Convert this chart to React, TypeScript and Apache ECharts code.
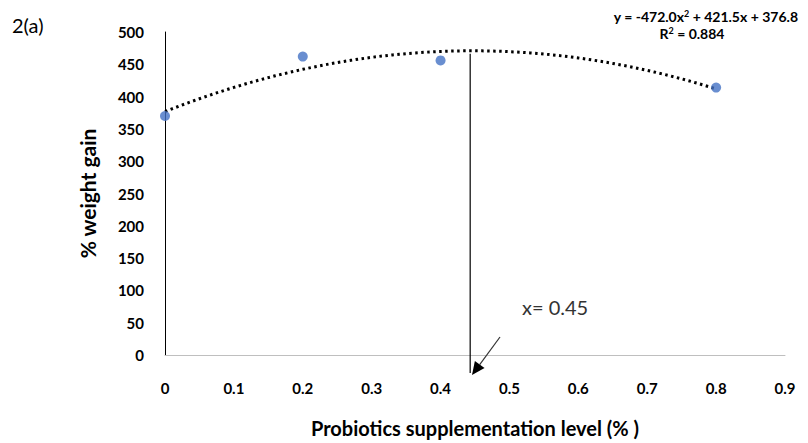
import React, { useEffect, useRef } from "react";
import * as echarts from "echarts";

const levels = [0, 0.2, 0.4, 0.8];
const weightGain = [370, 462, 456, 414];
const fitCoefficients = [-472.0, 421.5, 376.8]; // a, b, c of y = ax^2 + bx + c
const rSquared = 0.884;
const optimumX = 0.443;
const xTicks = [0, 0.1, 0.2, 0.3, 0.4, 0.5, 0.6, 0.7, 0.8, 0.9];

const FONT = "Lato, 'Open Sans', sans-serif";

export default function App() {
  const ref = useRef<HTMLDivElement>(null);
  useEffect(() => {
    if (!ref.current) return;
    document.body.style.margin = "0";
    document.body.style.overflow = "hidden";
    const chart = echarts.init(ref.current, undefined, { renderer: "svg" });
    const [a, b, c] = fitCoefficients;
    const trend: number[][] = [];
    for (let i = 0; i <= 80; i++) {
      const x = i / 100;
      trend.push([x, a * x * x + b * x + c]);
    }
    const option: any = {
      animation: false,
      backgroundColor: "#fff",
      grid: { left: 165, right: 23, top: 32, bottom: 84 },
      xAxis: {
        type: "value",
        min: 0,
        max: 0.9,
        interval: 0.1,
        name: "Probiotics supplementation level (% )",
        nameLocation: "middle",
        nameGap: 63,
        nameTextStyle: { fontFamily: FONT, fontWeight: "bold", fontSize: 20, color: "#000" },
        axisLine: { show: true, lineStyle: { color: "#bfbfbf", width: 1 } },
        axisTick: { show: false },
        splitLine: { show: false },
        axisLabel: {
          margin: 25,
          fontFamily: FONT,
          fontWeight: "bold",
          fontSize: 15,
          color: "#000",
          formatter: (v: number) => {
            const t = xTicks.find((k) => Math.abs(k - v) < 1e-6);
            return String(t !== undefined ? t : +v.toFixed(1));
          },
        },
      },
      yAxis: {
        type: "value",
        min: 0,
        max: 500,
        interval: 50,
        name: "% weight gain",
        nameLocation: "middle",
        nameGap: 67,
        nameTextStyle: { fontFamily: FONT, fontWeight: "bold", fontSize: 21, color: "#000" },
        axisLine: { show: true, lineStyle: { color: "#000", width: 1 } },
        axisTick: { show: false },
        splitLine: { show: false },
        axisLabel: { margin: 21, fontFamily: FONT, fontWeight: "bold", fontSize: 15, color: "#000" },
      },
      series: [
        {
          type: "line",
          data: trend,
          showSymbol: false,
          symbol: "none",
          lineStyle: { color: "#000", width: 3, type: [2.5, 3.5] },
          z: 2,
        },
        {
          type: "scatter",
          data: levels.map((x, i) => [x, weightGain[i]]),
          symbol: "circle",
          symbolSize: 10,
          itemStyle: { color: "#4472C4" },
          z: 3,
        },
      ],
    };
    chart.setOption(option);

    const top = chart.convertToPixel({ gridIndex: 0 }, [optimumX, a * optimumX * optimumX + b * optimumX + c]) as number[];
    const bottom = chart.convertToPixel({ gridIndex: 0 }, [optimumX, -28]) as number[];

    const tip = [472, 375];
    const start = [500, 337];
    const dx = tip[0] - start[0];
    const dy = tip[1] - start[1];
    const len = Math.hypot(dx, dy);
    const ux = dx / len, uy = dy / len;
    const hl = 13, hw = 6;
    const base = [tip[0] - ux * hl, tip[1] - uy * hl];
    const px = -uy, py = ux;
    const sup = { fontFamily: FONT, fontWeight: "bold", fontSize: 9, verticalAlign: "top", fill: "#000", padding: [0, 0, 6, 0] };

    chart.setOption({
      graphic: [
        {
          type: "line",
          shape: { x1: top[0], y1: top[1] + 3, x2: bottom[0], y2: bottom[1] },
          style: { stroke: "#000", lineWidth: 1.2 },
          z: 10,
        },
        {
          type: "line",
          shape: { x1: start[0], y1: start[1], x2: base[0], y2: base[1] },
          style: { stroke: "#333", lineWidth: 1.2 },
          z: 10,
        },
        {
          type: "polygon",
          shape: {
            points: [
              tip,
              [base[0] + px * hw, base[1] + py * hw],
              [base[0] - px * hw, base[1] - py * hw],
            ],
          },
          style: { fill: "#000" },
          z: 10,
        },
        {
          type: "text",
          x: 522,
          y: 307,
          style: { text: "x= " + "0.45", fontFamily: FONT, fontSize: 20, fill: "#333", verticalAlign: "middle" },
          z: 10,
        },
        {
          type: "text",
          x: 12,
          y: 25,
          style: { text: "2(a)", fontFamily: FONT, fontSize: 20, fill: "#000", verticalAlign: "middle" },
        },
        {
          type: "text",
          x: 798,
          y: 16,
          style: {
            text: `y = ${a.toFixed(1)}x{s|2} + ${b.toFixed(1)}x + ${c.toFixed(1)}`,
            align: "right",
            verticalAlign: "middle",
            fontFamily: FONT,
            fontWeight: "bold",
            fontSize: 14,
            fill: "#000",
            rich: { s: sup },
          },
        },
        {
          type: "text",
          x: 692,
          y: 33,
          style: {
            text: `R{s|2} = ${rSquared.toFixed(3)}`,
            align: "center",
            verticalAlign: "middle",
            fontFamily: FONT,
            fontWeight: "bold",
            fontSize: 14,
            fill: "#000",
            rich: { s: sup },
          },
        },
      ],
    });
    return () => chart.dispose();
  }, []);
  return <div ref={ref} style={{ width: 808, height: 443 }} />;
}
